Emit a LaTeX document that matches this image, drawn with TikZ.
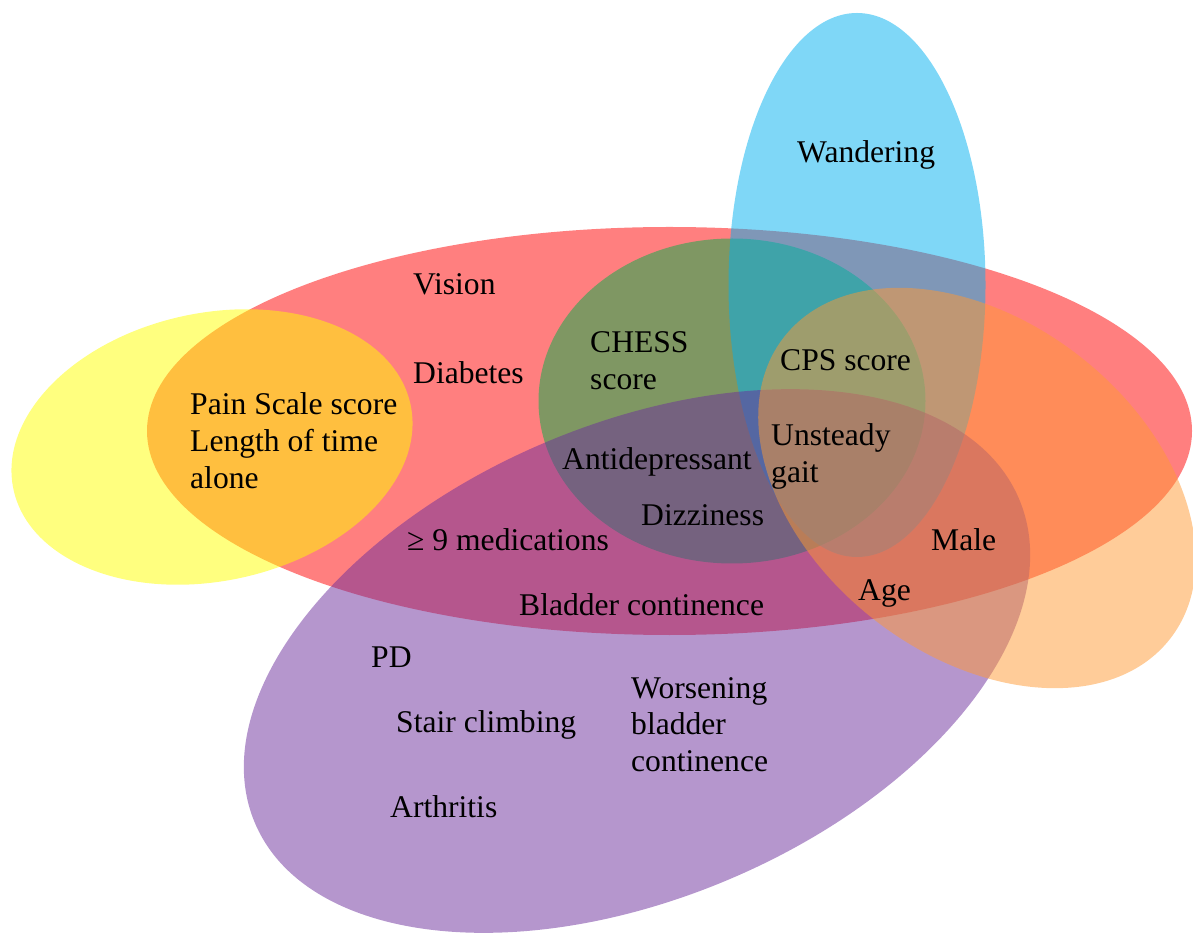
\documentclass[tikz,border=0pt]{standalone}
\usepackage{fontspec}
\setmainfont{Liberation Serif}
\definecolor{vred}{RGB}{255,0,0}
\definecolor{vyellow}{RGB}{255,255,0}
\definecolor{vgreen}{RGB}{0,176,72}
\definecolor{vblue}{RGB}{0,176,240}
\definecolor{vpurple}{RGB}{108,46,156}
\definecolor{vorange}{RGB}{255,153,51}
\begin{document}
\begin{tikzpicture}[x=1pt,y=1pt,
  set/.style={fill opacity=0.5},
  lbl/.style={anchor=base west, inner sep=0pt, font=\fontsize{31.6}{36}\selectfont}]
\useasboundingbox (0,0) rectangle (1193,935);
% sets
\fill[set, fill=vred] (669.5,504) ellipse [x radius=522.5, y radius=204];
\fill[set, fill=vyellow, rotate around={12:(212,488)}] (212,488) ellipse [x radius=203, y radius=134];
\fill[set, fill=vgreen] (732,534) ellipse [x radius=193.5, y radius=162.5];
\fill[set, fill=vblue] (857,650) ellipse [x radius=128.5, y radius=272];
\fill[set, fill=vpurple, rotate around={23:(637,274)}] (637,274) ellipse [x radius=415, y radius=237];
\fill[set, fill=vorange, rotate around={-38:(977,447)}] (977,447) ellipse [x radius=245, y radius=167];
% labels
\begin{scope}[yshift=-2.5pt]
\node[lbl] (wand) at (797,775) {Wandering};
\node[lbl] (vis) at (413,643) {Vision};
\node[lbl] (diab) at (413,554) {Diabetes};
\node[lbl] (chess1) at (590,585) {CHESS};
\node[lbl] (chess2) at (590,548) {score};
\node[lbl] (cps) at (780,567) {CPS score};
\node[lbl] (pain1) at (190,523) {Pain Scale score};
\node[lbl] (pain2) at (190,486) {Length of time};
\node[lbl] (pain3) at (190,449) {alone};
\node[lbl] (gait1) at (771,492) {Unsteady};
\node[lbl] (gait2) at (771,455) {gait};
\node[lbl] (anti) at (562,468) {Antidepressant};
\node[lbl] (dizz) at (641,412) {Dizziness};
\node[lbl] (meds) at (407,387) {≥ 9 medications};
\node[lbl] (male) at (931,387) {Male};
\node[lbl] (age) at (858,337) {Age};
\node[lbl] (blad) at (519,322) {Bladder continence};
\node[lbl] (pd) at (371,270) {PD};
\node[lbl] (wors1) at (631,239) {Worsening};
\node[lbl] (wors2) at (631,203) {bladder};
\node[lbl] (wors3) at (631,166) {continence};
\node[lbl] (stair) at (396,205) {Stair climbing};
\node[lbl] (arth) at (390,120) {Arthritis};
\end{scope}
\end{tikzpicture}
\end{document}
